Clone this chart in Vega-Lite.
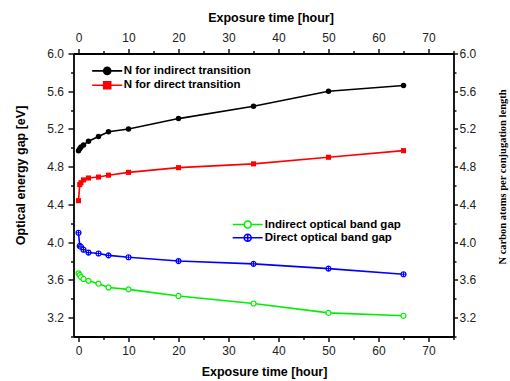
{
  "$schema": "https://vega.github.io/schema/vega-lite/v6.json",
  "width": 380,
  "height": 283,
  "autosize": "none",
  "padding": {"left": 73.5, "top": 53.5, "right": 56.5, "bottom": 44.5},
  "config": {
    "view": {"stroke": null},
    "font": "Liberation Sans",
    "axis": {
      "grid": false,
      "domainColor": "#000000",
      "domainWidth": 1.8,
      "tickColor": "#000000",
      "tickWidth": 1.4,
      "labelColor": "#222222",
      "labelFont": "Liberation Sans",
      "labelFontSize": 12,
      "labelFlush": false,
      "labelOverlap": false,
      "labelBound": false,
      "titleFont": "Liberation Sans",
      "titleFontWeight": "bold",
      "titleFontSize": 12.5,
      "titleColor": "#000000"
    }
  },
  "datasets": {
    "nvals": [
      {"t": 0, "v": 4.97, "s": "N for indirect transition"},
      {"t": 0.25, "v": 4.99, "s": "N for indirect transition"},
      {"t": 0.5, "v": 5.01, "s": "N for indirect transition"},
      {"t": 1, "v": 5.03, "s": "N for indirect transition"},
      {"t": 2, "v": 5.07, "s": "N for indirect transition"},
      {"t": 4, "v": 5.12, "s": "N for indirect transition"},
      {"t": 6, "v": 5.17, "s": "N for indirect transition"},
      {"t": 10, "v": 5.20, "s": "N for indirect transition"},
      {"t": 20, "v": 5.31, "s": "N for indirect transition"},
      {"t": 35, "v": 5.44, "s": "N for indirect transition"},
      {"t": 50, "v": 5.60, "s": "N for indirect transition"},
      {"t": 65, "v": 5.66, "s": "N for indirect transition"},
      {"t": 0, "v": 4.44, "s": "N for direct transition"},
      {"t": 0.25, "v": 4.61, "s": "N for direct transition"},
      {"t": 0.5, "v": 4.63, "s": "N for direct transition"},
      {"t": 1, "v": 4.66, "s": "N for direct transition"},
      {"t": 2, "v": 4.68, "s": "N for direct transition"},
      {"t": 4, "v": 4.69, "s": "N for direct transition"},
      {"t": 6, "v": 4.71, "s": "N for direct transition"},
      {"t": 10, "v": 4.74, "s": "N for direct transition"},
      {"t": 20, "v": 4.79, "s": "N for direct transition"},
      {"t": 35, "v": 4.83, "s": "N for direct transition"},
      {"t": 50, "v": 4.90, "s": "N for direct transition"},
      {"t": 65, "v": 4.97, "s": "N for direct transition"}
    ],
    "gapvals": [
      {"t": 0, "v": 3.67, "s": "Indirect optical band gap"},
      {"t": 0.25, "v": 3.65, "s": "Indirect optical band gap"},
      {"t": 0.5, "v": 3.63, "s": "Indirect optical band gap"},
      {"t": 1, "v": 3.61, "s": "Indirect optical band gap"},
      {"t": 2, "v": 3.59, "s": "Indirect optical band gap"},
      {"t": 4, "v": 3.56, "s": "Indirect optical band gap"},
      {"t": 6, "v": 3.52, "s": "Indirect optical band gap"},
      {"t": 10, "v": 3.50, "s": "Indirect optical band gap"},
      {"t": 20, "v": 3.43, "s": "Indirect optical band gap"},
      {"t": 35, "v": 3.35, "s": "Indirect optical band gap"},
      {"t": 50, "v": 3.25, "s": "Indirect optical band gap"},
      {"t": 65, "v": 3.22, "s": "Indirect optical band gap"},
      {"t": 0, "v": 4.10, "s": "Direct optical band gap"},
      {"t": 0.25, "v": 3.96, "s": "Direct optical band gap"},
      {"t": 0.5, "v": 3.95, "s": "Direct optical band gap"},
      {"t": 1, "v": 3.92, "s": "Direct optical band gap"},
      {"t": 2, "v": 3.89, "s": "Direct optical band gap"},
      {"t": 4, "v": 3.88, "s": "Direct optical band gap"},
      {"t": 6, "v": 3.86, "s": "Direct optical band gap"},
      {"t": 10, "v": 3.84, "s": "Direct optical band gap"},
      {"t": 20, "v": 3.80, "s": "Direct optical band gap"},
      {"t": 35, "v": 3.77, "s": "Direct optical band gap"},
      {"t": 50, "v": 3.72, "s": "Direct optical band gap"},
      {"t": 65, "v": 3.66, "s": "Direct optical band gap"}
    ]
  },
  "layer": [
    {
      "data": {"name": "nvals"},
      "encoding": {
        "x": {
          "field": "t", "type": "quantitative",
          "scale": {"domain": [-1, 75], "nice": false, "zero": false},
          "axis": {
            "orient": "top",
            "title": "Exposure time [hour]",
            "values": [0, 5, 10, 15, 20, 25, 30, 35, 40, 45, 50, 55, 60, 65, 70, 75],
            "labelExpr": "datum.value % 10 === 0 ? datum.label : ''",
            "tickSize": {"condition": {"test": "datum.value % 10 === 0", "value": 5}, "value": 3},
            "labelPadding": 4,
            "titleX": 197,
            "titleY": -36.5,
            "titleBaseline": "middle"
          }
        },
        "y": {
          "field": "v", "type": "quantitative",
          "scale": {"domain": [3, 6], "nice": false, "zero": false},
          "axis": {
            "orient": "right",
            "title": "N carbon atoms per conjugation length",
            "titleFont": "Liberation Serif",
            "titleFontSize": 10.5,
            "titleAngle": 270,
            "titleX": 49,
            "titleY": 123,
            "titleBaseline": "middle",
            "titleAlign": "center",
            "values": [3.0, 3.2, 3.4, 3.6, 3.8, 4.0, 4.2, 4.4, 4.6, 4.8, 5.0, 5.2, 5.4, 5.6, 5.8, 6.0],
            "labelExpr": "abs(round(datum.value * 10)) % 4 === 0 ? format(datum.value, '.1f') : ''",
            "tickSize": {"condition": {"test": "abs(round(datum.value * 10)) % 4 === 0", "value": 4}, "value": 2.5},
            "labelPadding": 1.5
          }
        },
        "color": {
          "field": "s", "type": "nominal",
          "scale": {"domain": ["N for indirect transition", "N for direct transition"], "range": ["#000000", "#ff0000"]},
          "legend": {
            "orient": "none",
            "legendX": 27.7,
            "legendY": 11.4,
            "title": null,
            "padding": 0,
            "rowPadding": 0.3,
            "symbolSize": 100,
            "symbolStrokeWidth": 1.6,
            "labelOffset": 10.5,
            "labelFont": "Liberation Sans",
            "labelFontWeight": "bold",
            "labelFontSize": 11.5,
            "labelColor": "#000000",
            "encode": {
              "symbols": {
                "update": {
                  "shape": {"signal": "datum.value === 'N for direct transition' ? 'M-3,0H3M-0.7,-0.7H0.7V0.7H-0.7Z' : 'M-3,0H3M-0.7,0A0.7,0.7,0,1,1,0.7,0A0.7,0.7,0,1,1,-0.7,0Z'"},
                  "fill": {"signal": "datum.value === 'N for direct transition' ? '#ff0000' : '#000000'"},
                  "stroke": {"signal": "datum.value === 'N for direct transition' ? '#ff0000' : '#000000'"},
                  "strokeWidth": {"value": 1.6},
                  "opacity": {"value": 1},
                  "fillOpacity": {"value": 1}
                }
              }
            }
          }
        }
      },
      "layer": [
        {"mark": {"type": "line", "strokeWidth": 1.6}},
        {
          "transform": [{"filter": "datum.s === 'N for indirect transition'"}],
          "mark": {"type": "point", "filled": true, "opacity": 1, "size": 30, "shape": "circle"}
        },
        {
          "transform": [{"filter": "datum.s === 'N for direct transition'"}],
          "mark": {"type": "point", "filled": true, "opacity": 1, "size": 26, "shape": "square"}
        }
      ]
    },
    {
      "data": {"name": "gapvals"},
      "encoding": {
        "x": {
          "field": "t", "type": "quantitative",
          "scale": {"domain": [-1, 75], "nice": false, "zero": false},
          "axis": {
            "orient": "bottom",
            "title": "Exposure time [hour]",
            "values": [0, 5, 10, 15, 20, 25, 30, 35, 40, 45, 50, 55, 60, 65, 70, 75],
            "labelExpr": "datum.value % 10 === 0 ? datum.label : ''",
            "tickSize": {"condition": {"test": "datum.value % 10 === 0", "value": 5}, "value": 3},
            "labelPadding": 3.5,
            "titleX": 190.5,
            "titleY": 34.5,
            "titleBaseline": "middle"
          }
        },
        "y": {
          "field": "v", "type": "quantitative",
          "scale": {"domain": [3, 6], "nice": false, "zero": false},
          "axis": {
            "orient": "left",
            "title": "Optical energy gap [eV]",
            "titleX": -53.5,
            "titleY": 121.5,
            "titleBaseline": "middle",
            "titleAlign": "center",
            "values": [3.0, 3.2, 3.4, 3.6, 3.8, 4.0, 4.2, 4.4, 4.6, 4.8, 5.0, 5.2, 5.4, 5.6, 5.8, 6.0],
            "labelExpr": "abs(round(datum.value * 10)) % 4 === 0 ? format(datum.value, '.1f') : ''",
            "tickSize": {"condition": {"test": "abs(round(datum.value * 10)) % 4 === 0", "value": 5.5}, "value": 3},
            "labelPadding": 4.5
          }
        },
        "stroke": {
          "field": "s", "type": "nominal",
          "scale": {"domain": ["Indirect optical band gap", "Direct optical band gap"], "range": ["#00ee00", "#0000ff"]},
          "legend": {
            "orient": "none",
            "legendX": 168.2,
            "legendY": 165,
            "title": null,
            "padding": 0,
            "rowPadding": -0.8,
            "symbolSize": 100,
            "symbolStrokeWidth": 1.6,
            "labelOffset": 11,
            "labelFont": "Liberation Sans",
            "labelFontWeight": "bold",
            "labelFontSize": 11.5,
            "labelColor": "#000000",
            "encode": {
              "symbols": {
                "update": {
                  "shape": {"signal": "datum.value === 'Direct optical band gap' ? 'M-3,0H3M0,-0.7V0.7M-0.7,0A0.7,0.7,0,1,1,0.7,0A0.7,0.7,0,1,1,-0.7,0Z' : 'M-3,0H-0.7M0.7,0H3M-0.7,0A0.7,0.7,0,1,1,0.7,0A0.7,0.7,0,1,1,-0.7,0Z'"},
                  "fill": {"value": "#ffffff"},
                  "stroke": {"signal": "datum.value === 'Direct optical band gap' ? '#0000ff' : '#00ee00'"},
                  "strokeWidth": {"value": 1.6},
                  "opacity": {"value": 1},
                  "fillOpacity": {"value": 1}
                }
              }
            }
          }
        }
      },
      "layer": [
        {"mark": {"type": "line", "strokeWidth": 1.6}},
        {
          "transform": [{"filter": "datum.s === 'Indirect optical band gap'"}],
          "mark": {"type": "point", "filled": true, "fill": "#ffffff", "opacity": 1, "strokeWidth": 1.2, "size": 25, "shape": "circle"}
        },
        {
          "transform": [{"filter": "datum.s === 'Direct optical band gap'"}],
          "mark": {"type": "point", "filled": true, "fill": "#ffffff", "opacity": 1, "strokeWidth": 1.2, "size": 25, "shape": "M-1,0A1,1,0,1,1,1,0A1,1,0,1,1,-1,0ZM0,-1V1M-1,0H1"}
        }
      ]
    }
  ],
  "resolve": {
    "scale": {"color": "independent", "stroke": "independent"},
    "axis": {"x": "independent", "y": "independent"}
  }
}
